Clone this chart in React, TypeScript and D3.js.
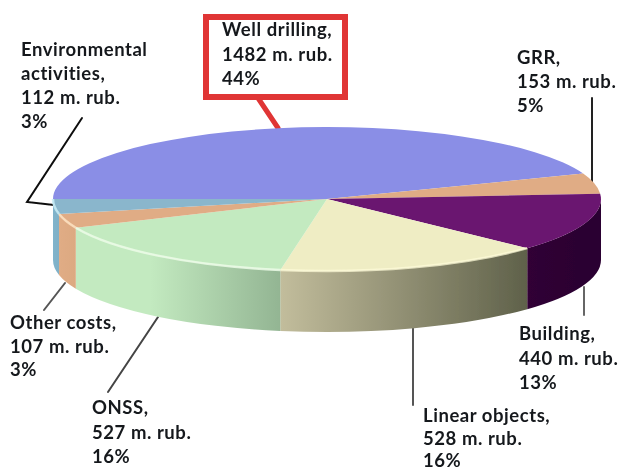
import React from "react";
import * as d3 from "d3";

const categories = ["Well drilling", "GRR", "Building", "Linear objects", "ONSS", "Other costs", "Environmental activities"];
const costs = [1482, 153, 440, 528, 527, 107, 112];
const topColors = ["#8a8ee6", "#e0ac85", "#6b1470", "#efedc4", "#c3eac0", "#e0ac85", "#8ab6cc"];
const sideStops = [
  ["#8a8ee6", "#8a8ee6"],
  ["#e0ac85", "#e0ac85"],
  ["#300335", "#2a0230"],
  ["#c2bd9c", "#5f614a"],
  ["#c3eac0", "#93b593"],
  ["#e0ac85", "#dca981"],
  ["#80b4cc", "#80b0c6"],
];
const labelLines = [
  ["Well drilling,", "1482 m. rub.", "44%"],
  ["GRR,", "153 m. rub.", "5%"],
  ["Building,", "440 m. rub.", "13%"],
  ["Linear objects,", "528 m. rub.", "16%"],
  ["ONSS,", "527 m. rub.", "16%"],
  ["Other costs,", "107 m. rub.", "3%"],
  ["Environmental", "activities,", "112 m. rub.", "3%"],
];
const labelAnchors = [
  [222, 36], [517, 64], [519, 340], [423, 422], [92, 414], [10, 329], [21, 56],
];
const labelSteps = [24.5, 24, 24.5, 22.5, 24.5, 23.5, 24];
const leaders = [
  { pts: [[258, 98], [278, 128]], color: "#e03535", width: 5 },
  { pts: [[592, 98], [592, 182]], color: "#222", width: 2 },
  { pts: [[584, 287], [584, 315]], color: "#666", width: 2 },
  { pts: [[413, 328], [413, 405]], color: "#555", width: 2 },
  { pts: [[158, 317], [108, 392]], color: "#444", width: 2 },
  { pts: [[65, 283], [44, 310]], color: "#555", width: 2 },
  { pts: [[82, 118], [27, 202], [54, 205]], color: "#111", width: 2 },
];

const cx = 327, cy = 199, rx = 274, ry = 72, depth = 61;
const W = 619, H = 471;
const px = (a: number) => cx + rx * Math.sin(a);
const py = (a: number) => cy - ry * Math.cos(a);

const pie = d3.pie<number>().sort(null).startAngle(-Math.PI / 2).endAngle((3 * Math.PI) / 2);
const arcs = pie(costs);
const arcGen = d3.arc<any>().innerRadius(0).outerRadius(1);

function wallPath(a0: number, a1: number) {
  const s = Math.max(a0, Math.PI / 2), e = Math.min(a1, (3 * Math.PI) / 2);
  if (e <= s) return null;
  const f = `M${px(s)},${py(s)}A${rx},${ry} 0 0 1 ${px(e)},${py(e)}`;
  return {
    d: `${f}L${px(e)},${py(e) + depth}A${rx},${ry} 0 0 0 ${px(s)},${py(s) + depth}Z`,
    rim: f,
    x0: Math.min(px(s), px(e)),
    x1: Math.max(px(s), px(e)),
  };
}

export default function App() {
  const walls = arcs.map((a, i) => ({ w: wallPath(a.startAngle, a.endAngle), i }));
  return (
    <svg width={W} height={H} style={{ position: "absolute", left: 0, top: 0, background: "#fff" }}
      fontFamily="Lato, sans-serif" fontWeight={700} fontSize={18.5} letterSpacing={0.55}>
      <defs>
        <filter id="soft" x="-5%" y="-5%" width="110%" height="110%">
          <feGaussianBlur stdDeviation="0.45" />
        </filter>
        {walls.map(({ w, i }) => w && (
          <linearGradient key={i} id={`wall${i}`} gradientUnits="userSpaceOnUse"
            x1={i === 4 ? 150 : w.x0} x2={w.x1} y1={0} y2={0}>
            <stop offset="0" stopColor={sideStops[i][0]} />
            <stop offset="1" stopColor={sideStops[i][1]} />
          </linearGradient>
        ))}
      </defs>
      <g filter="url(#soft)">
        {leaders.map((l, i) => (
          <polyline key={i} points={l.pts.map((p) => p.join(",")).join(" ")} fill="none"
            stroke={l.color} strokeWidth={l.width} strokeLinecap="round" />
        ))}
        {walls.map(({ w, i }) => w && <path key={i} d={w.d} fill={`url(#wall${i})`} />)}
        <g transform={`translate(${cx},${cy}) scale(${rx},${ry})`}>
          {arcs.map((a, i) => (
            <path key={i} d={arcGen(a) as string} fill={topColors[i]} />
          ))}
        </g>
        {walls.map(({ w, i }) => w && i !== 2 && (
          <path key={i} d={w.rim} fill="none" strokeWidth={2.5} strokeOpacity={i === 3 ? 0.75 : 0.85}
            stroke={i === 3 ? "#fdfbd8" : i === 4 ? "#ecfbe8" : i === 5 ? "#fde2c2" : "#c8ecf6"} />
        ))}
        <rect x={206} y={17} width={139} height={80} fill="#fff" stroke="#e03535" strokeWidth={6} />
      </g>
      {labelLines.map((lines, i) => (
        <text key={i} fill="#15181c" style={{ filter: "blur(0.3px)" }}>
          {lines.map((t, j) => (
            <tspan key={j} x={labelAnchors[i][0]} y={labelAnchors[i][1] + j * labelSteps[i]}>{t}</tspan>
          ))}
        </text>
      ))}
    </svg>
  );
}
